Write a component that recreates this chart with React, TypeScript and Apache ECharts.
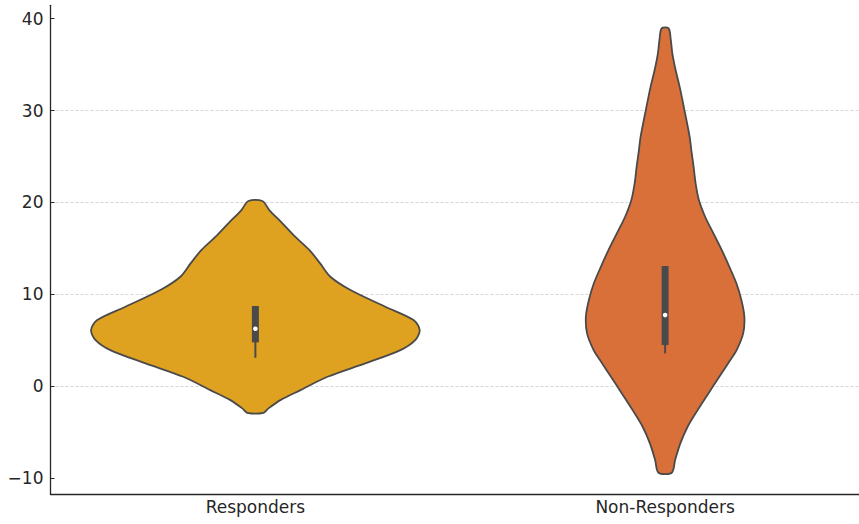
import React, { useEffect, useRef } from "react";
import * as echarts from "echarts";

// Groups shown along the x axis
const categories = ["Responders", "Non-Responders"];
const fillColors = ["#DEA220", "#D9703A"];

// Violin outlines: y levels (top to bottom) and the density half-width at
// each level, as a fraction of one category band.
const responderLevels = [20.14, 19.16, 17.71, 16.26, 14.8, 13.35, 11.9, 10.45, 8.63, 7.18, 6.09, 5.0, 3.91, 2.46, 1.0, -0.45, -1.54, -2.44, -2.92];
const responderWidths = [0.017, 0.034, 0.066, 0.097, 0.132, 0.158, 0.183, 0.232, 0.317, 0.386, 0.401, 0.39, 0.354, 0.268, 0.176, 0.11, 0.061, 0.032, 0.02];

const nonResponderLevels = [38.95, 37.68, 36.23, 34.41, 32.6, 30.05, 27.15, 25.7, 23.88, 22.07, 20.25, 18.43, 16.62, 14.8, 12.98, 11.18, 9.36, 7.54, 5.73, 3.9, 2.82, 1.0, -0.81, -2.63, -4.44, -6.25, -8.07, -9.45];
const nonResponderWidths = [0.0085, 0.0139, 0.0176, 0.0256, 0.0354, 0.0471, 0.0598, 0.0639, 0.0695, 0.0744, 0.0824, 0.0976, 0.1178, 0.1383, 0.1568, 0.1739, 0.1861, 0.1934, 0.1905, 0.1745, 0.1590, 0.1322, 0.1056, 0.0793, 0.0549, 0.0371, 0.0244, 0.0163];

// Inner box summaries: [lower whisker, Q1, median, Q3, upper whisker]
const responderBox = [3.07, 4.75, 6.23, 8.71, 8.71];
const nonResponderBox = [3.55, 4.46, 7.72, 13.06, 13.06];

// Value-axis tick labels
const yTicks = [-10, 0, 10, 20, 30, 40];

const profiles = [
  { levels: responderLevels, widths: responderWidths, box: responderBox },
  { levels: nonResponderLevels, widths: nonResponderWidths, box: nonResponderBox },
];

const FONT = "DejaVu Sans";
const INK = "#262626";

export default function App() {
  const ref = useRef<HTMLDivElement>(null);

  useEffect(() => {
    if (!ref.current) return;
    const chart = echarts.init(ref.current, null, { renderer: "svg" });

    const renderItem = (params: any, api: any) => {
      const idx = params.dataIndex;
      const cat = api.value(0);
      const prof = profiles[idx];
      const band = api.size([1, 0])[0];
      const center = api.coord([cat, 0])[0];

      const right = prof.levels.map((v, k) => {
        const c = api.coord([cat, v]);
        return [c[0] + prof.widths[k] * band, c[1]];
      });
      const left = prof.levels
        .map((v, k) => {
          const c = api.coord([cat, v]);
          return [c[0] - prof.widths[k] * band, c[1]];
        })
        .reverse();

      const [wLo, q1, med, q3, wHi] = prof.box;
      const yWLo = api.coord([cat, wLo])[1];
      const yWHi = api.coord([cat, wHi])[1];
      const yQ1 = api.coord([cat, q1])[1];
      const yQ3 = api.coord([cat, q3])[1];
      const yMed = api.coord([cat, med])[1];

      return {
        type: "group",
        children: [
          {
            type: "polygon",
            shape: { points: right.concat(left), smooth: 0.3 },
            style: { fill: fillColors[idx], stroke: "#4a4a4a", lineWidth: 1.8 },
          },
          {
            type: "line",
            shape: { x1: center, y1: yWLo, x2: center, y2: yWHi },
            style: { stroke: "#4a4a4a", lineWidth: 2 },
          },
          {
            type: "rect",
            shape: { x: center - 3.5, y: yQ3, width: 7, height: yQ1 - yQ3 },
            style: { fill: "#4a4a4a" },
          },
          {
            type: "circle",
            shape: { cx: center, cy: yMed, r: 2.3 },
            style: { fill: "#ffffff" },
          },
        ],
      };
    };

    chart.setOption({
      animation: false,
      backgroundColor: "#ffffff",
      grid: { left: 50.5, right: 0, top: 5.3, bottom: 29.7 },
      xAxis: {
        type: "category",
        data: categories,
        boundaryGap: true,
        axisLine: { onZero: false, lineStyle: { color: INK, width: 1.3 } },
        axisTick: { inside: true, alignWithLabel: true, length: 4, lineStyle: { color: INK } },
        axisLabel: { color: INK, fontFamily: FONT, fontSize: 17, margin: 4 },
        splitLine: { show: false },
      },
      yAxis: {
        type: "value",
        min: -11.8,
        max: 41.46,
        axisLine: { show: true, lineStyle: { color: INK, width: 1.3 } },
        axisTick: { show: true, inside: true, length: 4, customValues: yTicks, lineStyle: { color: INK } },
        axisLabel: {
          color: INK,
          fontFamily: FONT,
          fontSize: 17,
          margin: 7,
          customValues: yTicks,
          formatter: (v: number) => String(v).replace("-", "\u2212"),
        },
        splitLine: {
          show: true,
          showMinLine: false,
          showMaxLine: false,
          lineStyle: { color: "#cccccc", width: 0.8, type: [3, 2] },
        },
      },
      series: [
        {
          type: "custom",
          renderItem,
          encode: { x: 0, y: 1 },
          data: [
            [0, responderBox[2]],
            [1, nonResponderBox[2]],
          ],
        },
      ],
    });

    return () => chart.dispose();
  }, []);

  // The plot's right band edge runs a little past the visible frame.
  return (
    <div style={{ position: "absolute", left: 0, top: 0, width: 859, height: 524, overflow: "hidden" }}>
      <div ref={ref} style={{ width: 870, height: 524 }} />
    </div>
  );
}
